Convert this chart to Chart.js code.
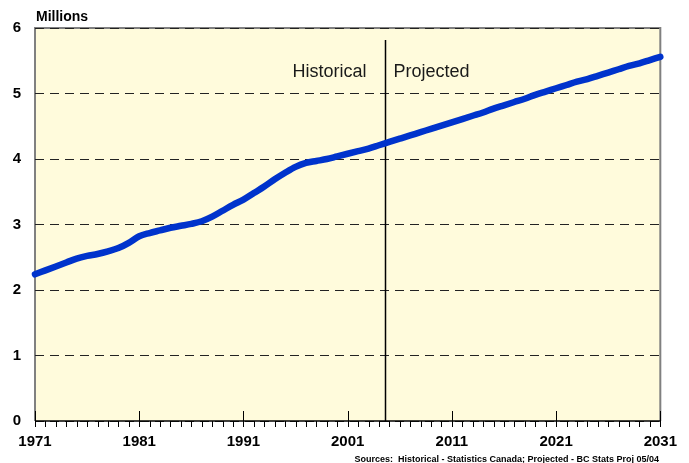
<!DOCTYPE html>
<html>
<head>
<meta charset="utf-8">
<script src="https://cdn.jsdelivr.net/npm/chart.js"></script>
<style>
  html, body { margin: 0; padding: 0; background: #fff; }
  canvas { display: block; }
</style>
</head>
<body>
<canvas id="popChart" width="689" height="463"></canvas>
<script>
// BC population, millions (historical to 2004, projected after)
const years = [1971, 1972, 1973, 1974, 1975, 1976, 1977, 1978, 1979, 1980,
  1981, 1982, 1983, 1984, 1985, 1986, 1987, 1988, 1989, 1990,
  1991, 1992, 1993, 1994, 1995, 1996, 1997, 1998, 1999, 2000,
  2001, 2002, 2003, 2004, 2005, 2006, 2007, 2008, 2009, 2010,
  2011, 2012, 2013, 2014, 2015, 2016, 2017, 2018, 2019, 2020,
  2021, 2022, 2023, 2024, 2025, 2026, 2027, 2028, 2029, 2030, 2031];
const population = [2.24, 2.30, 2.36, 2.42, 2.48, 2.52, 2.55, 2.59, 2.64, 2.72,
  2.82, 2.87, 2.91, 2.95, 2.98, 3.01, 3.05, 3.12, 3.21, 3.30,
  3.38, 3.48, 3.58, 3.69, 3.79, 3.88, 3.94, 3.97, 4.00, 4.04,
  4.08, 4.12, 4.16, 4.21, 4.26, 4.31, 4.36, 4.41, 4.46, 4.51,
  4.56, 4.61, 4.66, 4.71, 4.77, 4.82, 4.87, 4.92, 4.98, 5.03,
  5.08, 5.13, 5.18, 5.22, 5.27, 5.32, 5.37, 5.42, 5.46, 5.51, 5.56];
const yearTicks = [1971, 1981, 1991, 2001, 2011, 2021, 2031];
const valueTicks = [0, 1, 2, 3, 4, 5, 6];
const splitYear = 2004.6;

const decor = {
  id: 'decor',
  beforeDraw(chart) {
    const { ctx, chartArea: a } = chart;
    ctx.save();
    ctx.fillStyle = '#fffbdc';
    ctx.fillRect(a.left, a.top, a.right - a.left, a.bottom - a.top);
    ctx.strokeStyle = '#808080';
    ctx.lineWidth = 2;
    ctx.beginPath();
    ctx.moveTo(a.left, a.bottom);
    ctx.lineTo(a.left, a.top);
    ctx.lineTo(a.right, a.top);
    ctx.lineTo(a.right, a.bottom);
    ctx.stroke();
    ctx.restore();
  },
  beforeDatasetsDraw(chart) {
    const { ctx, chartArea: a, scales: { x } } = chart;
    ctx.save();
    // x axis line + yearly ticks
    ctx.strokeStyle = '#000';
    ctx.lineWidth = 1.5;
    ctx.beginPath();
    ctx.moveTo(a.left, a.bottom);
    ctx.lineTo(a.right, a.bottom);
    ctx.stroke();
    ctx.lineWidth = 1;
    ctx.beginPath();
    for (let yr = years[0]; yr <= years[years.length - 1]; yr++) {
      const px = Math.round(x.getPixelForValue(yr)) + 0.5;
      const major = yearTicks.includes(yr);
      ctx.moveTo(px, major ? a.bottom - 10 : a.bottom);
      ctx.lineTo(px, a.bottom + 6);
    }
    ctx.stroke();
    // historical / projected split
    const sx = Math.round(x.getPixelForValue(splitYear)) + 0.5;
    ctx.lineWidth = 1.5;
    ctx.beginPath();
    ctx.moveTo(sx, a.top + 12);
    ctx.lineTo(sx, a.bottom);
    ctx.stroke();
    ctx.fillStyle = '#1a1a1a';
    ctx.font = '18px "Liberation Sans", Arial, sans-serif';
    ctx.textBaseline = 'alphabetic';
    ctx.textAlign = 'right';
    ctx.fillText('Historical', sx - 19, 77);
    ctx.textAlign = 'left';
    ctx.fillText('Projected', sx + 8, 77);
    ctx.restore();
  },
  afterDraw(chart) {
    const { ctx, chartArea: a } = chart;
    ctx.save();
    ctx.fillStyle = '#000';
    ctx.font = 'bold 14px "Liberation Sans", Arial, sans-serif';
    ctx.textAlign = 'left';
    ctx.textBaseline = 'alphabetic';
    ctx.fillText('Millions', a.left + 1, 21);
    ctx.font = 'bold 9px "Liberation Sans", Arial, sans-serif';
    ctx.textAlign = 'right';
    ctx.fillText('Sources:  Historical - Statistics Canada; Projected - BC Stats Proj 05/04', 659, 462);
    ctx.restore();
  }
};

new Chart(document.getElementById('popChart').getContext('2d'), {
  type: 'line',
  data: {
    datasets: [{
      data: years.map((yr, i) => ({ x: yr, y: population[i] })),
      borderColor: '#0033cc',
      borderWidth: 6.5,
      borderCapStyle: 'round',
      borderJoinStyle: 'round',
      pointRadius: 0,
      tension: 0.4,
      cubicInterpolationMode: 'monotone',
      clip: false
    }]
  },
  options: {
    responsive: false,
    animation: false,
    layout: { padding: { top: 28, right: 28, left: 0, bottom: 0 } },
    plugins: { legend: { display: false }, tooltip: { enabled: false } },
    scales: {
      x: {
        type: 'linear',
        min: yearTicks[0],
        max: yearTicks[yearTicks.length - 1],
        afterBuildTicks: s => { s.ticks = yearTicks.map(v => ({ value: v })); },
        afterFit: s => { s.height = 42; },
        grid: { display: false, drawTicks: false },
        border: { display: false },
        ticks: {
          color: '#000',
          font: { family: '"Liberation Sans", Arial, sans-serif', size: 15, weight: 'bold' },
          padding: 12,
          maxRotation: 0,
          autoSkip: false,
          callback: v => String(v)
        }
      },
      y: {
        min: valueTicks[0],
        max: valueTicks[valueTicks.length - 1],
        afterBuildTicks: s => { s.ticks = valueTicks.map(v => ({ value: v })); },
        afterFit: s => { s.width = 35; },
        grid: { color: '#222', lineWidth: 1, drawTicks: false },
        border: { display: false, dash: [9, 6] },
        ticks: {
          color: '#000',
          font: { family: '"Liberation Sans", Arial, sans-serif', size: 15, weight: 'bold' },
          padding: 14
        }
      }
    }
  },
  plugins: [decor]
});
</script>
</body>
</html>
